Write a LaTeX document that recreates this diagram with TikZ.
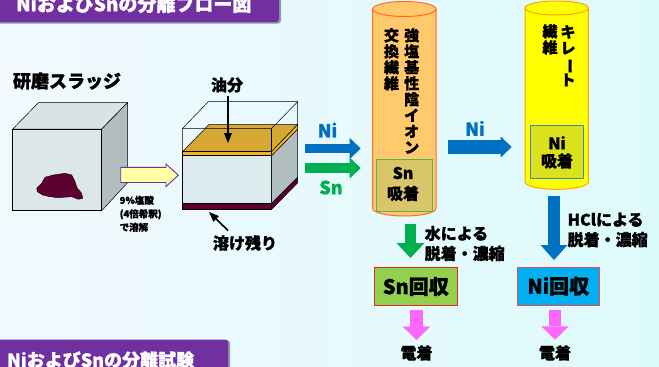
\documentclass[tikz,border=0pt]{standalone}
\usepackage{fontspec}
\setmainfont{Noto Sans CJK JP}[BoldFeatures={FakeBold=1.2}]
\usetikzlibrary{arrows.meta}

\definecolor{bgL}{HTML}{F1F9FE}
\definecolor{bgR}{HTML}{DDFAFB}
\definecolor{banner}{HTML}{7030A0}
\definecolor{bannershadow}{HTML}{8C98A8}
\definecolor{niblue}{HTML}{0070C0}
\definecolor{sngreen}{HTML}{00B050}
\definecolor{pinkarrow}{HTML}{FF66FF}
\definecolor{sludge}{HTML}{5E0030}
\definecolor{cubefront}{HTML}{DCE7EA}
\definecolor{cubeside}{HTML}{B1BDBF}
\definecolor{cubetop}{HTML}{D8E3E6}
\definecolor{liquid}{HTML}{DCEBEE}
\definecolor{oiltop}{HTML}{D5A834}
\definecolor{oilband}{HTML}{F0B423}
\definecolor{colA}{HTML}{FFC96C}
\definecolor{colAedge}{HTML}{FF6A2E}
\definecolor{colB}{HTML}{FFFF00}
\definecolor{colBedge}{HTML}{FFA500}
\definecolor{snbox}{HTML}{D9C66A}
\definecolor{snboxedge}{HTML}{5CB050}
\definecolor{nibox}{HTML}{DCE11E}
\definecolor{niboxedge}{HTML}{3090C0}
\definecolor{snrec}{HTML}{92D050}
\definecolor{snrecedge}{HTML}{E02828}
\definecolor{nirec}{HTML}{00B0F0}
\definecolor{nirecedge}{HTML}{EE4466}
\definecolor{acidarrow}{HTML}{FFFFA6}

\tikzset{
  lbl/.style={font=\bfseries\fontsize{16}{18}\selectfont, inner sep=0pt},
  biglbl/.style={font=\bfseries\fontsize{18}{20}\selectfont, inner sep=0pt},
  title/.style={font=\bfseries\fontsize{19}{21}\selectfont, text=white, inner sep=0pt, anchor=west},
  vtext/.style={font=\bfseries\fontsize{15}{16}\selectfont, inner sep=0pt, align=center, anchor=north},
  edge/.style={line width=0.5pt, draw=black},
  flowH/.style={-{Triangle[width=21pt,length=11pt,line width=0pt]}},
  flowV/.style={-{Triangle[width=28pt,length=15pt,line width=0pt]}},
  pointer/.style={line width=1.6pt, -{Triangle[width=8pt,length=10pt,line width=0pt]}},
  recbox/.style={minimum width=83pt, minimum height=38pt, line width=1pt, inner sep=0pt,
                 font=\bfseries\fontsize{20}{22}\selectfont},
  adsbox/.style={line width=1pt, inner sep=0pt}
}

\begin{document}
\begin{tikzpicture}[x=1pt,y=-1pt]
\useasboundingbox (0,0) rectangle (659,367);
\clip (0,0) rectangle (659,367);

% background
\shade[left color=bgL, right color=bgR] (0,0) rectangle (659,367);

% title banners
\fill[bannershadow, rounded corners=3pt] (-6,-10) rectangle (281,23.5);
\fill[banner, rounded corners=3pt] (-6,-10) rectangle (279,22);
\node[title] (toptitle) at (16,4) {NiおよびSnの分離フロー図};
\fill[bannershadow, rounded corners=3pt] (-6,340) rectangle (230,376);
\fill[banner, rounded corners=3pt] (-6,339.5) rectangle (228,376);
\node[title, font=\bfseries\fontsize{18}{20}\selectfont] (bottomtitle) at (7,360) {NiおよびSnの分離試験};

% polishing sludge block
\node[font=\bfseries\fontsize{18}{20}\selectfont, inner sep=0pt] (sludgelbl) at (67,81) {研磨スラッジ};
\filldraw[edge, fill=cubetop] (12.7,129) -- (101.7,129) -- (127.7,102.5) -- (38.7,102.5) -- cycle;
\filldraw[edge, fill=cubeside] (101.7,129) -- (127.7,102.5) -- (127.7,182.5) -- (101.7,210.7) -- cycle;
\filldraw[edge, fill=cubefront] (12.7,129) rectangle (101.7,210.7);
\filldraw[fill=sludge, draw=black, line width=0.4pt, line join=round]
  (36.7,188.3) -- (41.7,183.3) -- (45,177.3) -- (53.3,175) -- (65,173.3) -- (71.7,175)
  -- (75,181.7) -- (77.3,188.3) -- (81.7,193.3) -- (82.7,198.3) -- (78.3,199.3)
  -- (71.7,196.7) -- (63.3,197.3) -- (58.3,197.7) -- (50,196.7) -- (42.7,195)
  -- (37.3,191.7) -- cycle;

% dissolution arrow
\filldraw[fill=acidarrow, draw=banner, line width=0.9pt]
  (120.7,167.3) -- (166,167.3) -- (166,164) -- (178.3,175.2) -- (166,186.5)
  -- (166,182.5) -- (120.7,182.5) -- cycle;
\node[font=\bfseries\fontsize{9.5}{13.5}\selectfont, align=left, inner sep=0pt, anchor=north west]
  (acidlbl) at (119.5,195.5) {9\%塩酸\\(4倍希釈)\\で溶解};

% dissolved sample block
\filldraw[edge, fill=liquid] (182.7,155.5) rectangle (271.7,203.3);
\filldraw[edge, fill=cubeside] (271.7,155.5) -- (297.7,129) -- (297.7,177.3) -- (271.7,203.3) -- cycle;
\filldraw[edge, fill=sludge] (182.7,203.3) rectangle (271.7,209.3);
\filldraw[edge, fill=sludge] (271.7,203.3) -- (297.7,177.3) -- (297.7,182.7) -- (271.7,209.3) -- cycle;
\filldraw[edge, fill=oiltop] (182.7,151.5) -- (271.7,151.5) -- (297.7,124.5) -- (209,124.5) -- cycle;
\filldraw[edge, fill=oilband] (182.7,151.5) rectangle (271.7,155.5);
\filldraw[edge, fill=oilband] (271.7,151.5) -- (297.7,124.5) -- (297.7,129) -- (271.7,155.5) -- cycle;
\draw[edge] (182.7,151.5) -- (182.7,128.3) -- (208.3,101.7) -- (297.7,101.7) -- (297.7,124.5);
\draw[edge] (182.7,128.3) -- (271.7,128.3) -- (297.7,101.7);
\draw[edge] (271.7,128.3) -- (271.7,151.5);

\node[lbl] (oillbl) at (227,85) {油分};
\coordinate (oilpt) at (228,143);
\draw[pointer] (oillbl.south) ++(1,3) -- (oilpt);
\node[lbl] (residuelbl) at (245,243) {溶け残り};
\coordinate (residuept) at (209,212);
\coordinate (residuetail) at (228,230.5);
\draw[pointer] (residuetail) -- (residuept);

% Ni / Sn feed arrows
\coordinate (nifeedA) at (305,148.5);
\coordinate (nifeedB) at (360.7,148.5);
\coordinate (snfeedA) at (305,168);
\coordinate (snfeedB) at (360.7,168);
\draw[flowH, niblue, line width=9pt] (nifeedA) -- (nifeedB);
\draw[flowH, sngreen, line width=10pt] (snfeedA) -- (snfeedB);
\node[biglbl, text=niblue] (nilblA) at (327.5,130) {Ni};
\node[biglbl, text=sngreen] (snlbl) at (331,187.5) {Sn};

% anion exchange fibre column
\filldraw[fill=colA, draw=colAedge, line width=1pt]
  (372.7,9) -- (372.7,208.5) arc[start angle=180, end angle=360, x radius=31.65pt, y radius=7.5pt]
  -- (436,9) -- cycle;
\filldraw[fill=colA, draw=colAedge, line width=1pt] (404.35,9) ellipse [x radius=31.65pt, y radius=7.5pt];
\node[vtext] (colAtxtR) at (411.7,28) {強\\塩\\基\\性\\陰\\イ\\オ\\ン};
\node[vtext] (colAtxtL) at (391.5,28) {交\\換\\繊\\維};
\node[adsbox, fill=snbox, draw=snboxedge, minimum width=55.6pt, minimum height=52.4pt] (snads) at (404.5,185.5) {};
\node[lbl] (snadsA) at (403,173) {Sn};
\node[lbl] (snadsB) at (403,193.5) {吸着};

% Ni transfer arrow
\coordinate (nimidA) at (448,147);
\coordinate (nimidB) at (511.7,147);
\draw[flowH, niblue, line width=14pt] (nimidA) -- (nimidB);
\node[biglbl, text=niblue] (nilblB) at (475,128.3) {Ni};

% chelate fibre column
\filldraw[fill=colB, draw=colBedge, line width=1pt]
  (525,8) -- (525,182) arc[start angle=180, end angle=360, x radius=31.65pt, y radius=7.3pt]
  -- (588.3,8) -- cycle;
\filldraw[fill=colB, draw=colBedge, line width=1pt] (556.65,8) ellipse [x radius=31.65pt, y radius=7pt];
\node[vtext] (colBtxtR) at (568,25) {キ\\レ\\\rotatebox[origin=c]{-90}{ー}\\ト};
\node[vtext] (colBtxtL) at (550,24) {繊\\維};
\node[adsbox, fill=nibox, draw=niboxedge, minimum width=53.3pt, minimum height=53.3pt] (niads) at (556.7,151.7) {};
\node[lbl] (niadsA) at (557,142.7) {Ni};
\node[lbl] (niadsB) at (557,161) {吸着};

% elution arrows
\coordinate (snelA) at (410.5,224);
\coordinate (snelB) at (410.5,258);
\draw[flowV, sngreen, line width=11pt] (snelA) -- (snelB);
\node[lbl, align=left, anchor=west, font=\bfseries\fontsize{16}{20}\selectfont] (snellbl) at (424.5,243.5) {水による\\脱着・濃縮};
\coordinate (nielA) at (554,196);
\coordinate (nielB) at (554,260);
\draw[flowV, niblue, line width=12pt, -{Triangle[width=27pt,length=15pt,line width=0pt]}] (nielA) -- (nielB);
\node[lbl, align=left, anchor=west, font=\bfseries\fontsize{16}{20}\selectfont] (nielbl) at (567.5,230) {HClによる\\脱着・濃縮};

% recovery boxes
\node[recbox, fill=snrec, draw=snrecedge] (snrecov) at (415.8,286.5) {Sn回収};
\node[recbox, fill=nirec, draw=nirecedge, minimum width=82pt] (nirecov) at (558.3,286.2) {Ni回収};

% electrodeposition
\node[lbl] (snplate) at (416.5,353) {電着};
\node[lbl] (niplate) at (555,353) {電着};
\draw[pinkarrow, line width=12.6pt, -{Triangle[width=27.3pt,length=13.3pt,line width=0pt]}]
  (snrecov.south) ++(0.7,4.3) -- ++(0,29.7);
\draw[pinkarrow, line width=12.6pt, -{Triangle[width=27.3pt,length=13.3pt,line width=0pt]}]
  (nirecov.south) ++(-3.3,4) -- ++(0,30);
\end{tikzpicture}
\end{document}
